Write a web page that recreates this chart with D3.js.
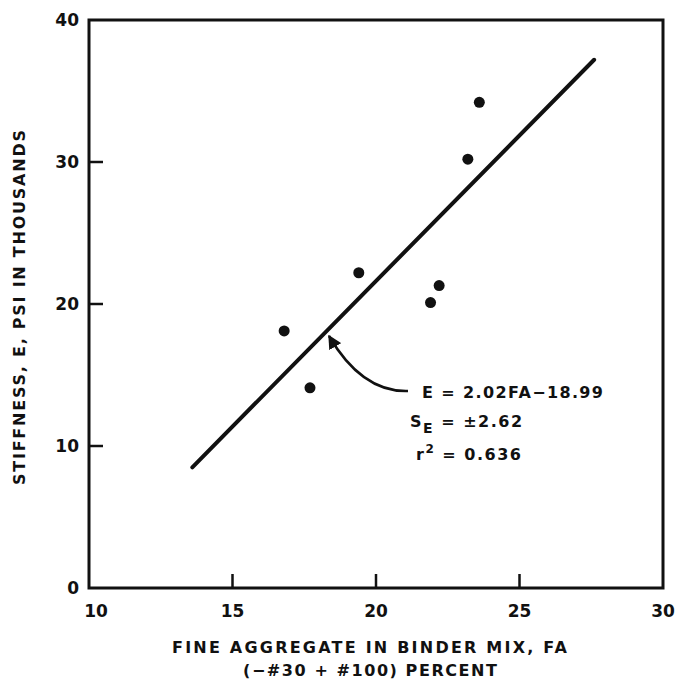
<!DOCTYPE html>
<html>
<head>
<meta charset="utf-8">
<script src="https://cdn.jsdelivr.net/npm/d3@7"></script>
<style>
  body { margin: 0; background: #fff; }
  text { font-family: "DejaVu Sans", "Liberation Sans", sans-serif; font-weight: bold; fill: #111; }
</style>
</head>
<body>
<script>
// chart size
let width = 677, height = 680;

let margin = {top: 20, bottom: 92, left: 89, right: 14};

// data
const fineAggregate = [16.8, 17.7, 19.4, 21.9, 22.2, 23.2, 23.6];
const stiffness     = [18.1, 14.1, 22.2, 20.1, 21.3, 30.2, 34.2];
const fitLineX = [13.6, 27.6];
const fitLineY = [8.5, 37.2];
const xTicks = [10, 15, 20, 25, 30];
const yTicks = [0, 10, 20, 30, 40];
const fitText = ["E = 2.02FA\u221218.99", "S", "E", " = \u00b12.62", "r", "2", " = 0.636"];

let svg = d3.select('body')
  .append('svg')
  .attr('width', width)
  .attr('height', height);

const xScale = d3.scaleLinear()
  .domain([10, 30])
  .range([margin.left, width - margin.right]);

const yScale = d3.scaleLinear()
  .domain([0, 40])
  .range([height - margin.bottom, margin.top]);

// frame
svg.append("rect")
  .attr("x", xScale(10))
  .attr("y", yScale(40))
  .attr("width", xScale(30) - xScale(10))
  .attr("height", yScale(0) - yScale(40))
  .attr("fill", "none")
  .attr("stroke", "#111")
  .attr("stroke-width", 3);

// inward tick marks
svg.selectAll(".xtick")
  .data(xTicks.slice(1, -1))
  .enter()
  .append("line")
  .attr("x1", d => xScale(d))
  .attr("x2", d => xScale(d))
  .attr("y1", yScale(0))
  .attr("y2", yScale(0) - 14)
  .attr("stroke", "#111")
  .attr("stroke-width", 2.5);

svg.selectAll(".ytick")
  .data(yTicks.slice(1, -1))
  .enter()
  .append("line")
  .attr("x1", xScale(10))
  .attr("x2", xScale(10) + 14)
  .attr("y1", d => yScale(d))
  .attr("y2", d => yScale(d))
  .attr("stroke", "#111")
  .attr("stroke-width", 2.5);

// tick labels
svg.selectAll(".xlabel")
  .data(xTicks)
  .enter()
  .append("text")
  .attr("x", (d, i) => xScale(d) + (i === 0 ? 7 : 0))
  .attr("y", yScale(0) + 29)
  .attr("text-anchor", "middle")
  .style("font-size", "17px")
  .text(d => d);

svg.selectAll(".ylabel")
  .data(yTicks)
  .enter()
  .append("text")
  .attr("x", xScale(10) - 10)
  .attr("y", d => yScale(d) + 6)
  .attr("text-anchor", "end")
  .style("font-size", "17px")
  .text(d => d);

// regression line
svg.append("line")
  .attr("x1", xScale(fitLineX[0]))
  .attr("y1", yScale(fitLineY[0]))
  .attr("x2", xScale(fitLineX[1]))
  .attr("y2", yScale(fitLineY[1]))
  .attr("stroke", "#111")
  .attr("stroke-width", 4)
  .attr("stroke-linecap", "round");

// points
svg.selectAll("circle")
  .data(fineAggregate)
  .enter()
  .append("circle")
  .attr("cx", d => xScale(d))
  .attr("cy", (d, i) => yScale(stiffness[i]))
  .attr("r", 5.5)
  .attr("fill", "#111");

// arrow to the line
svg.append("defs").append("marker")
  .attr("id", "head")
  .attr("viewBox", "0 0 10 10")
  .attr("refX", 9).attr("refY", 5)
  .attr("markerWidth", 5.5).attr("markerHeight", 5.5)
  .attr("orient", "auto")
  .append("path")
  .attr("d", "M0,0 L10,5 L0,10 Z")
  .attr("fill", "#111");

svg.append("path")
  .attr("d", "M408,391 C375,392 350,372 329,336")
  .attr("fill", "none")
  .attr("stroke", "#111")
  .attr("stroke-width", 2.5)
  .attr("marker-end", "url(#head)");

// fit statistics
svg.append("text")
  .attr("x", 422).attr("y", 398)
  .attr("textLength", 181)
  .style("font-size", "16px")
  .text(fitText[0]);

let se = svg.append("text")
  .attr("x", 410).attr("y", 427)
  .style("font-size", "16px")
  .style("letter-spacing", "1.5px");
se.append("tspan").text(fitText[1]);
se.append("tspan").attr("dy", 6).style("font-size", "14px").text(fitText[2]);
se.append("tspan").attr("dy", -6).text(fitText[3]);

let r2 = svg.append("text")
  .attr("x", 416).attr("y", 460)
  .style("font-size", "16px")
  .style("letter-spacing", "1.5px");
r2.append("tspan").text(fitText[4]);
r2.append("tspan").attr("dy", -7).style("font-size", "12px").text(fitText[5]);
r2.append("tspan").attr("dy", 7).text(fitText[6]);

// axis titles
svg.append("text")
  .attr("x", 172).attr("y", 653)
  .attr("textLength", 395)
  .style("font-size", "16px")
  .text("FINE AGGREGATE IN BINDER MIX, FA");

svg.append("text")
  .attr("x", 243).attr("y", 676)
  .attr("textLength", 254)
  .style("font-size", "16px")
  .text("(\u2212#30 + #100) PERCENT");

svg.append("text")
  .attr("transform", "translate(25,485)rotate(-90)")
  .attr("textLength", 355)
  .style("font-size", "16px")
  .text("STIFFNESS, E, PSI IN THOUSANDS");
</script>
</body>
</html>
